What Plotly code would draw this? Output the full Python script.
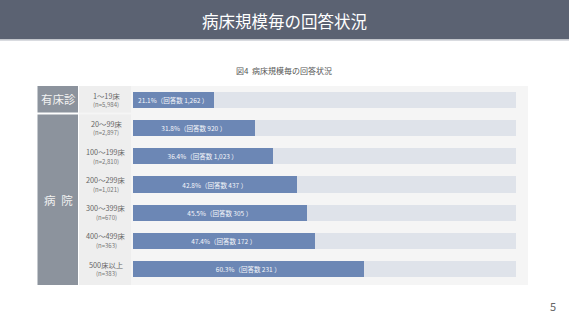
import plotly.graph_objects as go

categories = ["1～19床", "20～99床", "100～199床", "200～299床", "300～399床", "400～499床", "500床以上"]
n_labels = ["(n=5,984)", "(n=2,897)", "(n=2,810)", "(n=1,021)", "(n=670)", "(n=363)", "(n=383)"]
rates = [21.1, 31.8, 36.4, 42.8, 45.5, 47.4, 60.3]
responses = ["1,262", "920", "1,023", "437", "305", "172", "231"]
groups = ["有床診", "病\u2002院"]
group_px = [(86, 112.5), (114.5, 285)]

W, H = 569, 320
FONT = "Noto Sans CJK JP"
ys = list(range(len(categories)))

# pixel mapping for y: row 0 at 100px, row 6 at 269px
step = (269 - 100) / 6
y_top = -100 / step
y_bot = (H - 100) / step

fig = go.Figure()
fig.add_trace(go.Bar(
    y=ys, x=[100] * len(ys), orientation="h",
    marker=dict(color="#dfe3ea", line=dict(width=0)),
    width=0.57, hoverinfo="skip", showlegend=False,
))
fig.add_trace(go.Bar(
    y=ys, x=rates, orientation="h",
    marker=dict(color="#6c87b5", line=dict(width=0)),
    width=0.57, showlegend=False,
    text=[f"{r}%（回答数 {c} ）" for r, c in zip(rates, responses)],
    textposition="inside", insidetextanchor="middle",
    textfont=dict(color="#f4f6fa", size=6.5, family=FONT),
    constraintext="none",
))

shapes = []
shapes.append(dict(type="rect", xref="paper", yref="paper", x0=0, x1=1, y0=1 - 39.5 / H, y1=1,
                   fillcolor="#5b6272", line=dict(width=0), layer="below"))
shapes.append(dict(type="rect", xref="paper", yref="paper", x0=0, x1=1, y0=1 - 41 / H, y1=1 - 39.5 / H,
                   fillcolor="#d9dbe0", line=dict(width=0), layer="below"))
shapes.append(dict(type="rect", xref="paper", yref="paper", x0=79 / W, x1=528 / W,
                   y0=1 - 285 / H, y1=1 - 86 / H, fillcolor="#f5f5f5", line=dict(width=0), layer="below"))

annotations = []
for g, (t_px, b_px) in zip(groups, group_px):
    shapes.append(dict(type="rect", xref="paper", yref="paper", x0=37.5 / W, x1=78 / W,
                       y0=1 - b_px / H, y1=1 - t_px / H, fillcolor="#8c939d", line=dict(width=0), layer="below"))
    shapes.append(dict(type="rect", xref="paper", yref="paper", x0=79 / W, x1=131 / W,
                       y0=1 - b_px / H, y1=1 - t_px / H, fillcolor="#eeeeee", line=dict(width=0), layer="below"))
    mid = (t_px + b_px) / 2
    annotations.append(dict(text=g, xref="paper", yref="paper", x=58 / W, y=1 - mid / H,
                            showarrow=False, font=dict(color="#f2f2f2", size=11.5, family=FONT),
                            xanchor="center", yanchor="middle"))

for i, (c, n) in enumerate(zip(categories, n_labels)):
    annotations.append(dict(text=c, xref="paper", yref="y", x=106 / W, y=i, yshift=4.5,
                            showarrow=False, font=dict(color="#666666", size=7.3, family=FONT),
                            xanchor="center", yanchor="middle", borderpad=0))
    annotations.append(dict(text=n, xref="paper", yref="y", x=106 / W, y=i, yshift=-4.7,
                            showarrow=False, font=dict(color="#777777", size=6, family=FONT),
                            xanchor="center", yanchor="middle", borderpad=0))

annotations.append(dict(text="病床規模毎の回答状況", xref="paper", yref="paper", x=0.5, y=1 - 21.5 / H,
                        showarrow=False, font=dict(color="white", size=16.5, family=FONT),
                        xanchor="center", yanchor="middle"))
annotations.append(dict(text="図4  病床規模毎の回答状況", xref="paper", yref="paper", x=284 / W, y=1 - 70 / H,
                        showarrow=False, font=dict(color="#555555", size=8, family=FONT),
                        xanchor="center", yanchor="middle"))
annotations.append(dict(text="5", xref="paper", yref="paper", x=553 / W, y=1 - 306 / H,
                        showarrow=False, font=dict(color="#666666", size=11, family=FONT),
                        xanchor="center", yanchor="middle"))

fig.update_layout(
    width=W, height=H, margin=dict(l=0, r=0, t=0, b=0),
    paper_bgcolor="white", plot_bgcolor="rgba(0,0,0,0)",
    barmode="overlay", bargap=0,
    xaxis=dict(domain=[132.7 / W, 516 / W], range=[0, 100], visible=False, fixedrange=True),
    yaxis=dict(range=[y_bot, y_top], visible=False, fixedrange=True),
    shapes=shapes, annotations=annotations,
    font=dict(family=FONT),
)
fig.write_html("out.html")
